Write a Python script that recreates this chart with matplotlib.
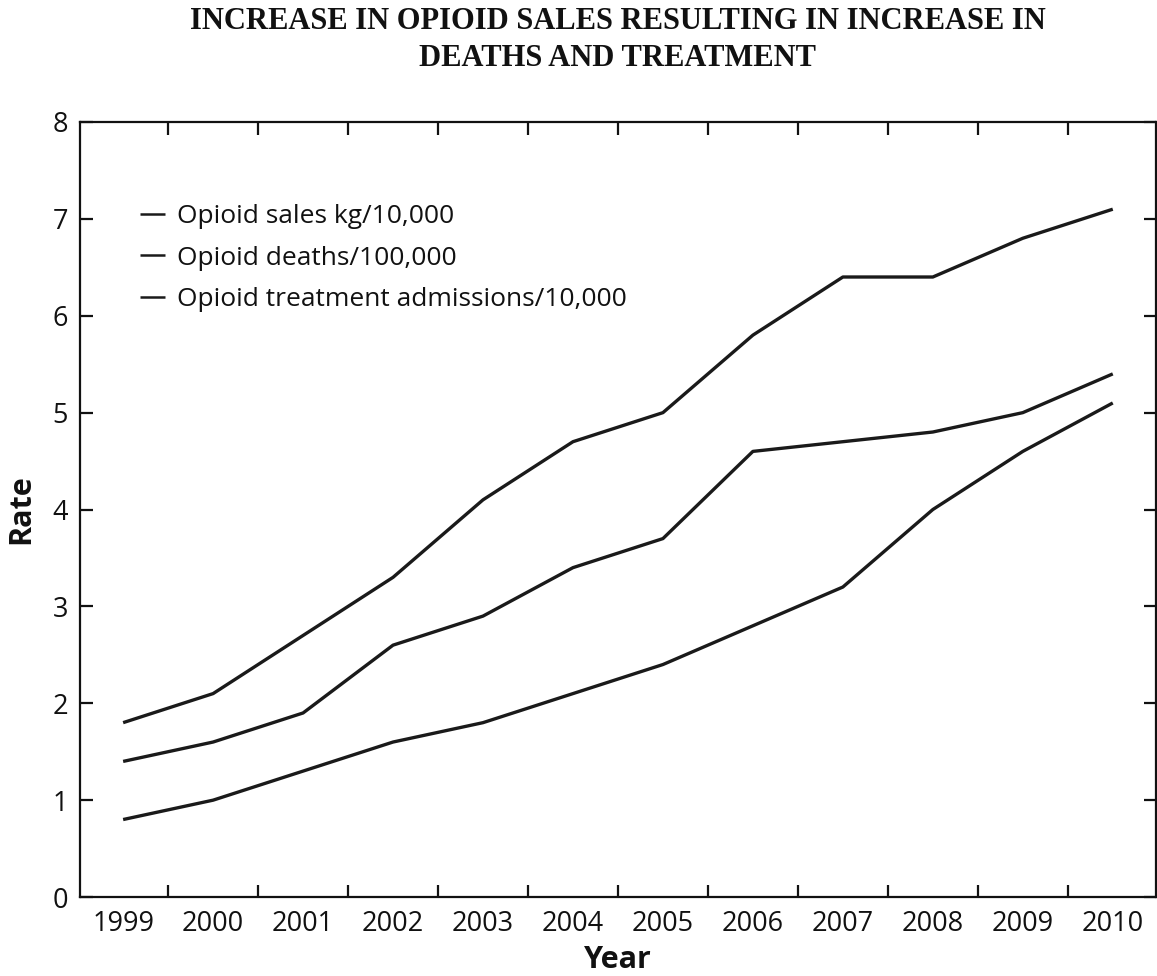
import matplotlib
matplotlib.use("Agg")
import matplotlib.pyplot as plt
from matplotlib.ticker import FixedLocator, NullFormatter

years = [1999, 2000, 2001, 2002, 2003, 2004, 2005, 2006, 2007, 2008, 2009, 2010]
sales = [1.8, 2.1, 2.7, 3.3, 4.1, 4.7, 5.0, 5.8, 6.4, 6.4, 6.8, 7.1]
deaths = [1.4, 1.6, 1.9, 2.6, 2.9, 3.4, 3.7, 4.6, 4.7, 4.8, 5.0, 5.4]
treatment = [0.8, 1.0, 1.3, 1.6, 1.8, 2.1, 2.4, 2.8, 3.2, 4.0, 4.6, 5.1]
series_labels = ["Opioid sales kg/10,000", "Opioid deaths/100,000",
                 "Opioid treatment admissions/10,000"]
y_ticks = [0, 1, 2, 3, 4, 5, 6, 7, 8]
title = "INCREASE IN OPIOID SALES RESULTING IN INCREASE IN\nDEATHS AND TREATMENT"

plt.rcParams["font.family"] = ["Open Sans", "DejaVu Sans"]
ink = "#111111"

fig = plt.figure(figsize=(11.57, 9.76), dpi=100)
ax = fig.add_axes([0.0691, 0.0809, 0.930, 0.7941])

for vals, lab in zip([sales, deaths, treatment], series_labels):
    ax.plot(years, vals, color="#1a1a1a", lw=2.4, label=lab,
            solid_joinstyle="round", solid_capstyle="butt")

ax.set_xlim(1998.52, 2010.48)
ax.set_ylim(0, 8)

# year labels sit between the tick marks
ax.xaxis.set_major_locator(FixedLocator([y + 0.5 for y in years[:-1]]))
ax.xaxis.set_major_formatter(NullFormatter())
ax.xaxis.set_minor_locator(FixedLocator(years))
ax.set_xticklabels([str(y) for y in years], minor=True)
ax.set_yticks(y_ticks)

ax.tick_params(axis="both", which="major", direction="in", length=9, width=1.6,
               color=ink, top=True, right=True, labelsize=19.5, labelcolor=ink)
ax.tick_params(axis="x", which="minor", length=0, labelsize=19.5, pad=9.5,
               labelcolor=ink)
ax.tick_params(axis="y", which="major", pad=8.5)

for sp in ax.spines.values():
    sp.set_linewidth(1.6)
    sp.set_color(ink)

ax.set_xlabel("Year", fontsize=22, fontweight="bold", color=ink, labelpad=5)
ax.set_ylabel("Rate", fontsize=22, fontweight="bold", color=ink, labelpad=12)
ax.set_title(title, fontsize=22, fontweight="bold", color=ink,
             family="Liberation Serif", pad=40, linespacing=1.37)

leg = ax.legend(loc="upper left", bbox_to_anchor=(0.056, 0.894), frameon=False,
                fontsize=19, handlelength=0.95, handletextpad=0.45,
                labelspacing=0.62, borderaxespad=0, borderpad=0)
for line in leg.get_lines():
    line.set_linewidth(1.8)
for t in leg.get_texts():
    t.set_color(ink)

fig.savefig("out.png", dpi=100, facecolor="white")
